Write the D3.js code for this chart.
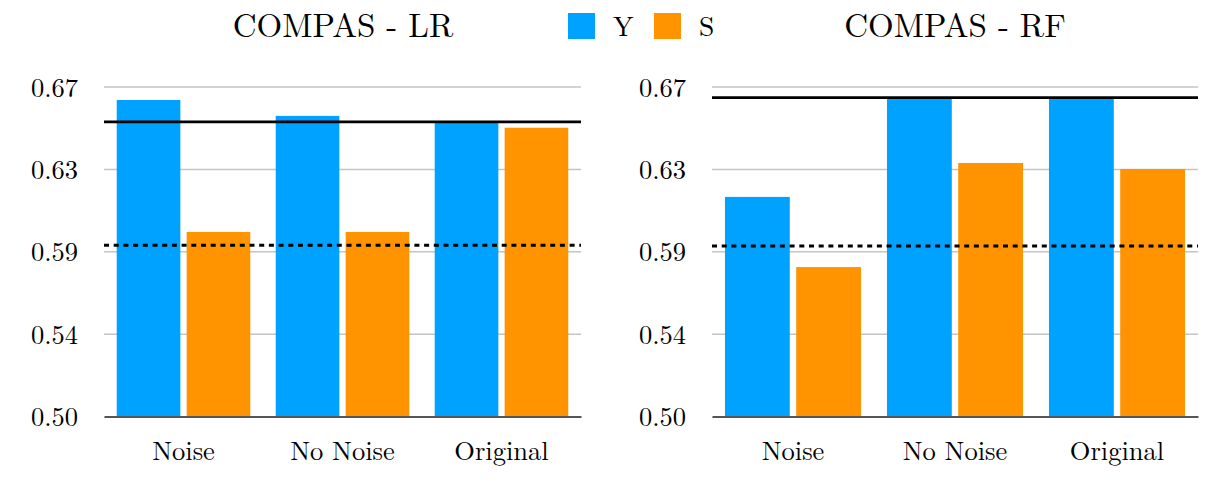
<!DOCTYPE html>
<html>
<head>
<meta charset="utf-8">
<script src="https://cdn.jsdelivr.net/npm/d3@7"></script>
<style>
  html, body { margin: 0; padding: 0; background: #fff; }
  svg text { font-family: "Latin Modern Roman", "Liberation Serif", serif; fill: #000; }
</style>
</head>
<body>
<svg id="chart" width="1225" height="482"></svg>
<script>
// Accuracy scores on COMPAS for two models, grouped by training setting
const categories = ["Noise", "No Noise", "Original"];
const seriesNames = ["Y", "S"];
const seriesColors = ["#00A2FF", "#FF9300"];

const lrY = [0.6633, 0.6551, 0.6520];
const lrS = [0.5952, 0.5952, 0.6490];
const lrSolidRef = 0.6520;
const lrDashedRef = 0.5883;

const rfY = [0.6133, 0.6645, 0.6645];
const rfS = [0.5771, 0.6308, 0.6277];
const rfSolidRef = 0.6645;
const rfDashedRef = 0.5880;

const yTicks = [0.50, 0.5425, 0.585, 0.6275, 0.67];
const yTickLabels = ["0.50", "0.54", "0.59", "0.63", "0.67"];
const yDomain = [0.50, 0.67];

const FONT = '"Latin Modern Roman", "Liberation Serif", serif';
const svg = d3.select("#chart");

const panels = [
  { title: "COMPAS - LR", y: lrY, s: lrS, solid: lrSolidRef, dashed: lrDashedRef,
    x0: 104, x1: 581, titleX: 343 },
  { title: "COMPAS - RF", y: rfY, s: rfS, solid: rfSolidRef, dashed: rfDashedRef,
    x0: 712, x1: 1198, titleX: 955 }
];

const plotTop = 87, plotBottom = 416.5;
const y = d3.scaleLinear().domain(yDomain).range([plotBottom, plotTop]);

panels.forEach(p => {
  const g = svg.append("g");
  const x = d3.scaleBand().domain(categories).range([p.x0, p.x1])
    .paddingInner(0.16).paddingOuter(0.08);
  const xs = d3.scaleBand().domain(seriesNames).range([0, x.bandwidth()])
    .paddingInner(0.09);

  // horizontal gridlines
  g.append("g").selectAll("line").data(yTicks.slice(1)).join("line")
    .attr("x1", p.x0).attr("x2", p.x1)
    .attr("y1", d => y(d)).attr("y2", d => y(d))
    .attr("stroke", "#c4c4c4").attr("stroke-width", 1.5);

  // y axis labels
  const yAxis = d3.axisLeft(y).tickValues(yTicks)
    .tickFormat((d, i) => yTickLabels[i]).tickSize(0).tickPadding(26);
  const ya = g.append("g").attr("transform", `translate(${p.x0},0)`).call(yAxis);
  ya.attr("font-family", null);
  ya.select(".domain").remove();
  ya.selectAll("text").style("font-size", "26.5px")
    .style("font-family", FONT).attr("dy", "0.34em");

  // bars
  const rows = categories.map((c, i) => ({ cat: c, vals: [p.y[i], p.s[i]] }));
  const grp = g.append("g").selectAll("g").data(rows).join("g")
    .attr("transform", d => `translate(${x(d.cat)},0)`);
  grp.selectAll("rect").data(d => d.vals.map((v, j) => ({ v, key: seriesNames[j], j })))
    .join("rect")
    .attr("x", d => xs(d.key))
    .attr("width", xs.bandwidth())
    .attr("y", d => y(d.v))
    .attr("height", d => y(yDomain[0]) - y(d.v))
    .attr("fill", d => seriesColors[d.j]);

  // x axis baseline and category labels
  const xAxis = d3.axisBottom(x).tickSize(0).tickPadding(25);
  const xa = g.append("g").attr("transform", `translate(0,${plotBottom})`).call(xAxis);
  xa.attr("font-family", null);
  xa.select(".domain").attr("stroke", "#555").attr("stroke-width", 2);
  xa.selectAll("text").style("font-size", "26.5px")
    .style("font-family", FONT);

  // reference lines
  g.append("line")
    .attr("x1", p.x0).attr("x2", p.x1)
    .attr("y1", y(p.solid)).attr("y2", y(p.solid))
    .attr("stroke", "#000").attr("stroke-width", 2.6);
  g.append("line")
    .attr("x1", p.x0).attr("x2", p.x1)
    .attr("y1", y(p.dashed)).attr("y2", y(p.dashed))
    .attr("stroke", "#000").attr("stroke-width", 3)
    .attr("stroke-dasharray", "5,4.7");

  // panel title
  svg.append("text").attr("x", p.titleX).attr("y", 37)
    .attr("text-anchor", "middle").style("font-size", "33px")
    .style("font-family", FONT).text(p.title);
});

// legend
const legend = svg.append("g");
const legendItems = [{ name: "Y", x: 568 }, { name: "S", x: 654 }];
legendItems.forEach((it, i) => {
  legend.append("rect").attr("x", it.x).attr("y", 13).attr("width", 27).attr("height", 26)
    .attr("fill", seriesColors[i]);
  legend.append("text").attr("x", it.x + 45).attr("y", 36)
    .style("font-size", "27.5px").style("font-family", FONT).text(it.name);
});
</script>
</body>
</html>
